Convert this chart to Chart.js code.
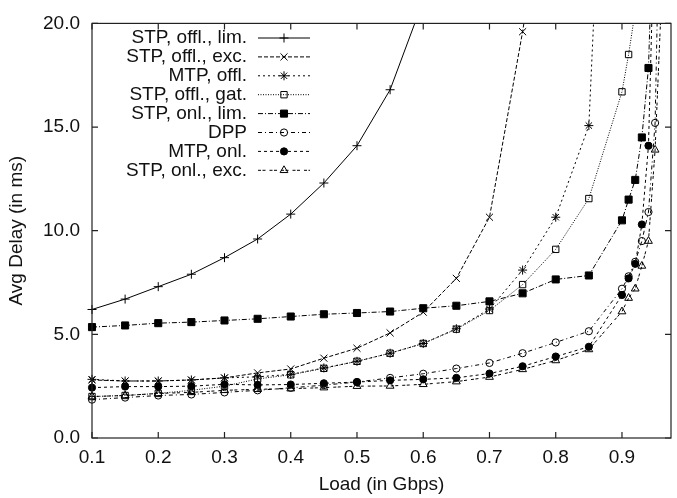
<!DOCTYPE html>
<html>
<head>
<meta charset="utf-8">
<script src="https://cdn.jsdelivr.net/npm/chart.js@4/dist/chart.umd.min.js"></script>
<style>
  html, body { margin: 0; padding: 0; background: #fff; }
  canvas { display: block; }
</style>
</head>
<body>
<canvas id="c" width="677" height="498"></canvas>
<script>
// Load points (Gbps); the low part is shared, each curve has its own tail near saturation
const LOAD = [0.1, 0.15, 0.2, 0.25, 0.3, 0.35, 0.4, 0.45, 0.5, 0.55, 0.6, 0.65, 0.7, 0.75, 0.8, 0.85];
const TAIL_OFFL_LIM = [0.6];
const TAIL_OFFL_EXC = [0.8];
const TAIL_MTP_OFFL = [0.9];
const TAIL_GAT = [0.9, 0.91, 0.92];
const TAIL_ONL_LIM = [0.9, 0.91, 0.92, 0.93, 0.94, 0.95];
const TAIL_DPP = [0.9, 0.91, 0.92, 0.93, 0.94, 0.95, 0.96];
const TAIL_MTP_ONL = [0.9, 0.91, 0.92, 0.93, 0.94, 0.95];
const TAIL_ONL_EXC = [0.9, 0.91, 0.92, 0.93, 0.94, 0.95, 0.96];

// Avg delay (ms)
const STP_OFFL_LIM = [6.2, 6.7, 7.3, 7.9, 8.7, 9.6, 10.8, 12.3, 14.1, 16.8, 21.1];
const STP_OFFL_EXC = [2.8, 2.75, 2.75, 2.8, 2.9, 3.14, 3.33, 3.85, 4.33, 5.07, 6.07, 7.7, 10.65, 19.6, 30];
const MTP_OFFL = [2.83, 2.75, 2.75, 2.8, 2.9, 2.95, 3.07, 3.38, 3.7, 4.09, 4.56, 5.27, 6.22, 8.1, 10.65, 15.07, 50];
const STP_OFFL_GAT = [2.0, 2.05, 2.15, 2.3, 2.5, 2.85, 3.05, 3.36, 3.7, 4.09, 4.56, 5.25, 6.15, 7.4, 9.1, 11.55, 16.7, 18.5, 20.6];
const STP_ONL_LIM = [5.35, 5.43, 5.54, 5.59, 5.67, 5.75, 5.86, 5.97, 6.03, 6.1, 6.26, 6.38, 6.59, 6.98, 7.65, 7.84, 10.5, 11.5, 12.45, 14.5, 17.85, 28];
const DPP = [1.85, 1.95, 2.05, 2.1, 2.2, 2.3, 2.42, 2.55, 2.7, 2.9, 3.1, 3.35, 3.62, 4.09, 4.61, 5.15, 7.2, 7.8, 8.5, 9.5, 10.9, 15.2, 31];
const MTP_ONL = [2.43, 2.48, 2.48, 2.5, 2.59, 2.56, 2.58, 2.64, 2.7, 2.78, 2.83, 2.9, 3.11, 3.46, 3.93, 4.4, 6.9, 7.7, 8.4, 10.3, 14.1, 26];
const STP_ONL_EXC = [2.0, 2.05, 2.15, 2.2, 2.3, 2.35, 2.38, 2.43, 2.5, 2.51, 2.59, 2.72, 2.94, 3.31, 3.74, 4.27, 6.1, 6.75, 7.2, 8.3, 9.5, 13.9, 21.5];

const X_TICKS = [0.1, 0.2, 0.3, 0.4, 0.5, 0.6, 0.7, 0.8, 0.9];
const Y_TICKS = [0, 5, 10, 15, 20];

const FONT = "'Liberation Sans', Arial, Helvetica, sans-serif";
const FSIZE = 19;
const INK = "#111";
const NONE = "rgba(0,0,0,0)";

// pair the first n shared loads plus a tail with the y values
function pts(n, tail, ys) {
  const xs = LOAD.slice(0, n).concat(tail);
  return ys.map((v, i) => ({ x: xs[i], y: v }));
}

const SERIES = [
  { label: "STP, offl., lim.", data: pts(10, TAIL_OFFL_LIM, STP_OFFL_LIM), style: "cross", r: 4.5, dash: [], fill: NONE },
  { label: "STP, offl., exc.", data: pts(14, TAIL_OFFL_EXC, STP_OFFL_EXC), style: "crossRot", r: 5, dash: [4, 2], fill: NONE },
  { label: "MTP, offl.", data: pts(16, TAIL_MTP_OFFL, MTP_OFFL), style: "star", r: 4.5, dash: [2, 3], fill: NONE },
  { label: "STP, offl., gat.", data: pts(16, TAIL_GAT, STP_OFFL_GAT), style: "rect", r: 4.5, dash: [1, 1.5], fill: NONE },
  { label: "STP, onl., lim.", data: pts(16, TAIL_ONL_LIM, STP_ONL_LIM), style: "rect", r: 5, dash: [5, 2, 1, 2], fill: "#000" },
  { label: "DPP", data: pts(16, TAIL_DPP, DPP), style: "circle", r: 3.6, dash: [4, 3, 1, 3], fill: NONE },
  { label: "MTP, onl.", data: pts(16, TAIL_MTP_ONL, MTP_ONL), style: "circle", r: 3.6, dash: [3, 3], fill: "#000" },
  { label: "STP, onl., exc.", data: pts(16, TAIL_ONL_EXC, STP_ONL_EXC), style: "triangle", r: 4.5, dash: [3, 1.5, 3, 4], fill: NONE }
];

const datasets = SERIES.map(s => ({
  label: s.label, data: s.data,
  borderColor: "#000", borderWidth: 1, borderDash: s.dash,
  pointStyle: s.style, pointRadius: s.r, pointBorderWidth: 1,
  pointBackgroundColor: s.fill, pointBorderColor: "#000",
  tension: 0, fill: false,
  clip: { left: 8, top: 0.5, right: 0.5, bottom: 8 }
}));

// gnuplot look: full box, inward ticks on every side, key drawn in the plot corner
const frame = {
  id: "frame",
  afterDraw(chart) {
    const { ctx, chartArea: a, scales: { x, y } } = chart;
    ctx.save();
    ctx.strokeStyle = "#222";
    ctx.lineWidth = 1.2;
    ctx.setLineDash([]);
    ctx.strokeRect(a.left, a.top, a.right - a.left, a.bottom - a.top);
    ctx.beginPath();
    X_TICKS.forEach(v => {
      const px = x.getPixelForValue(v);
      ctx.moveTo(px, a.bottom); ctx.lineTo(px, a.bottom - 6);
      ctx.moveTo(px, a.top); ctx.lineTo(px, a.top + 6);
    });
    Y_TICKS.forEach(v => {
      const py = y.getPixelForValue(v);
      ctx.moveTo(a.left, py); ctx.lineTo(a.left + 6, py);
      ctx.moveTo(a.right, py); ctx.lineTo(a.right - 6, py);
    });
    ctx.stroke();

    ctx.font = FSIZE + "px " + FONT;
    ctx.textAlign = "right";
    ctx.textBaseline = "middle";
    SERIES.forEach((s, i) => {
      const ry = 38 + i * 18.9;
      ctx.fillStyle = INK;
      ctx.fillText(s.label, 247, ry);
      ctx.strokeStyle = "#000";
      ctx.lineWidth = 1;
      ctx.setLineDash(s.dash);
      ctx.beginPath(); ctx.moveTo(258, ry); ctx.lineTo(310, ry); ctx.stroke();
      ctx.setLineDash([]);
      ctx.fillStyle = s.fill;
      Chart.helpers.drawPoint(ctx, { pointStyle: s.style, radius: s.r, borderWidth: 1, rotation: 0 }, 284, ry);
    });
    ctx.restore();
  }
};

new Chart(document.getElementById("c"), {
  type: "line",
  data: { datasets },
  plugins: [frame],
  options: {
    responsive: false, animation: false,
    layout: { padding: { top: 16, right: 1, left: 0, bottom: 0 } },
    plugins: { legend: { display: false }, tooltip: { enabled: false } },
    scales: {
      x: {
        type: "linear", min: 0.1, max: 0.974,
        afterBuildTicks: s => { s.ticks = X_TICKS.map(v => ({ value: v })); },
        afterFit: s => { s.height = 60; },
        grid: { display: false, drawTicks: false }, border: { display: false },
        ticks: { padding: 8, autoSkip: false, maxRotation: 0, color: INK, font: { size: FSIZE, family: FONT }, callback: v => v.toFixed(1) },
        title: { display: true, text: "Load (in Gbps)", color: INK, font: { size: FSIZE, family: FONT }, padding: { top: 0, bottom: 2 } }
      },
      y: {
        min: 0, max: 20,
        afterBuildTicks: s => { s.ticks = Y_TICKS.map(v => ({ value: v })); },
        afterFit: s => { s.width = 92; },
        grid: { display: false, drawTicks: false }, border: { display: false },
        ticks: { padding: 12, color: INK, font: { size: FSIZE, family: FONT }, callback: v => v.toFixed(1) },
        title: { display: true, text: "Avg Delay (in ms)", color: INK, font: { size: FSIZE, family: FONT }, padding: { top: 5, bottom: 0 } }
      }
    }
  }
});
</script>
</body>
</html>
